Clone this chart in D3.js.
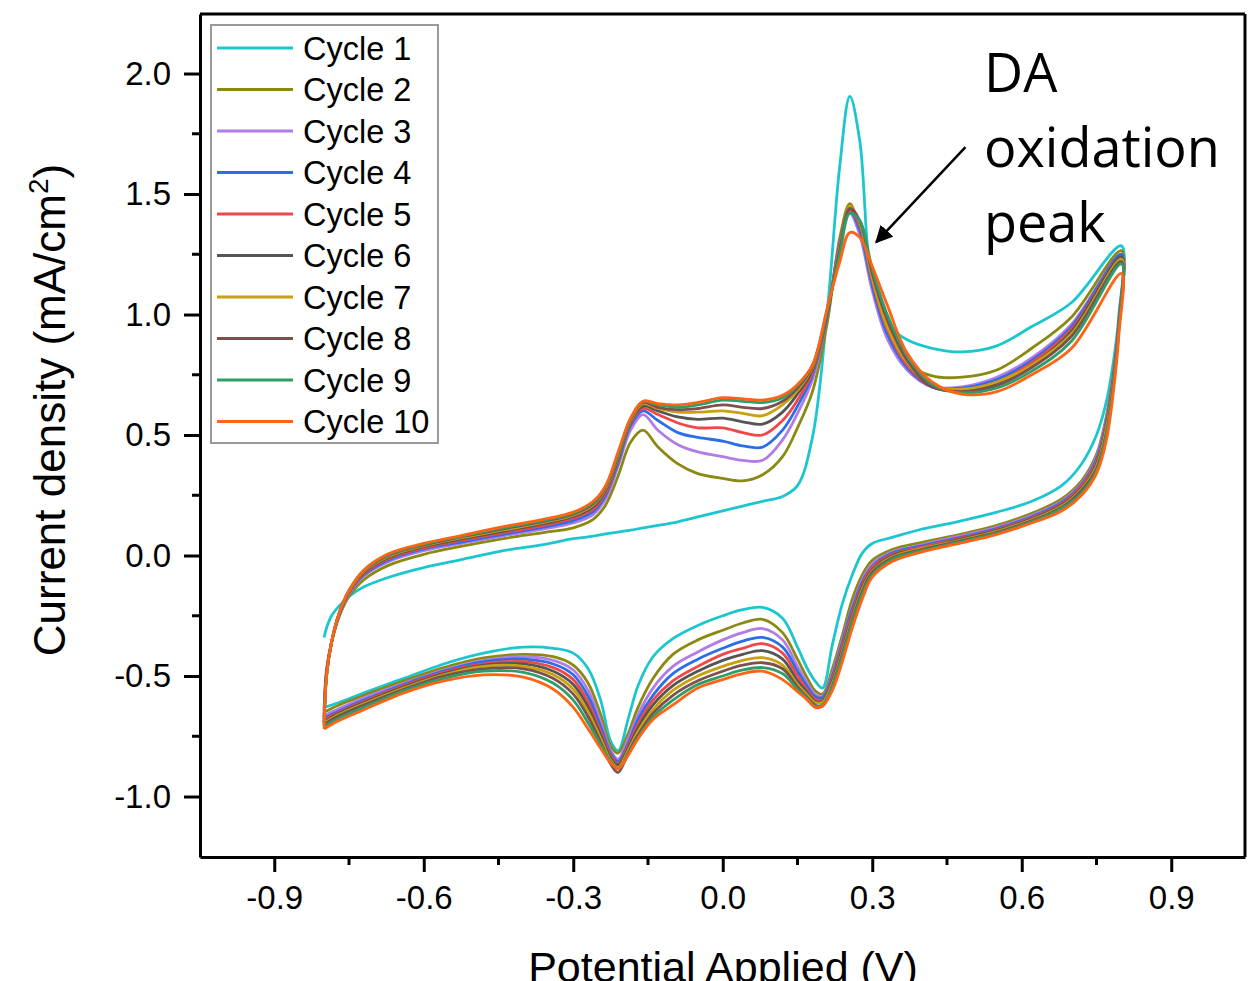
<!DOCTYPE html>
<html>
<head>
<meta charset="utf-8">
<script src="https://cdn.jsdelivr.net/npm/d3@7"></script>
<style>
  body { margin: 0; background: #fff; }
  svg { display: block; }
</style>
</head>
<body>
<svg id="chart" width="1249" height="981"></svg>
<script>
// potential grids (V): forward scan -0.8 -> 0.8, reverse scan 0.8 -> -0.8
var potFwd = [-0.80, -0.795, -0.785, -0.77, -0.75, -0.72, -0.67, -0.60, -0.52, -0.44, -0.36, -0.30, -0.26, -0.235, -0.21, -0.185, -0.16, -0.13, -0.09, -0.05, 0.00, 0.04, 0.08, 0.12, 0.15, 0.18, 0.21, 0.235, 0.255, 0.275, 0.30, 0.33, 0.37, 0.42, 0.48, 0.55, 0.62, 0.70, 0.80];
var potRev = [0.795, 0.785, 0.77, 0.75, 0.72, 0.68, 0.62, 0.55, 0.47, 0.40, 0.34, 0.30, 0.28, 0.26, 0.24, 0.22, 0.20, 0.185, 0.17, 0.15, 0.12, 0.08, 0.04, 0.00, -0.05, -0.10, -0.14, -0.17, -0.19, -0.21, -0.225, -0.245, -0.27, -0.30, -0.34, -0.40, -0.48, -0.56, -0.64, -0.72, -0.77, -0.80];

var cycleNames = ["Cycle 1", "Cycle 2", "Cycle 3", "Cycle 4", "Cycle 5", "Cycle 6", "Cycle 7", "Cycle 8", "Cycle 9", "Cycle 10"];
var cycleColors = ["#1cc6cf", "#8a8a12", "#b27ce6", "#2a6ee8", "#f04848", "#555555", "#c9a00e", "#7d5050", "#2e9e68", "#ff6314"];

// current density (mA/cm2), forward scan
var fwd1 = [-0.34, -0.30, -0.25, -0.21, -0.17, -0.13, -0.09, -0.05, -0.015, 0.02, 0.045, 0.07, 0.08, 0.09, 0.097, 0.105, 0.115, 0.125, 0.14, 0.16, 0.185, 0.205, 0.225, 0.245, 0.29, 0.49, 1.02, 1.62, 1.905, 1.72, 1.12, 0.96, 0.895, 0.86, 0.845, 0.87, 0.95, 1.05, 1.285];
var fwd2 = [-0.64, -0.47, -0.36, -0.255, -0.17, -0.10, -0.04, 0.005, 0.04, 0.07, 0.095, 0.115, 0.15, 0.21, 0.33, 0.47, 0.52, 0.45, 0.38, 0.34, 0.32, 0.31, 0.335, 0.41, 0.53, 0.68, 0.97, 1.32, 1.46, 1.35, 1.14, 0.94, 0.80, 0.745, 0.74, 0.77, 0.86, 0.99, 1.265];
var fwd3 = [-0.66, -0.48, -0.36, -0.25, -0.16, -0.085, -0.025, 0.02, 0.052, 0.082, 0.11, 0.135, 0.17, 0.235, 0.37, 0.52, 0.585, 0.52, 0.46, 0.43, 0.41, 0.395, 0.395, 0.48, 0.59, 0.73, 1.00, 1.30, 1.42, 1.33, 1.10, 0.90, 0.77, 0.70, 0.70, 0.74, 0.82, 0.96, 1.25];
var fwd4 = [-0.67, -0.485, -0.36, -0.248, -0.156, -0.08, -0.018, 0.027, 0.058, 0.088, 0.118, 0.145, 0.182, 0.25, 0.385, 0.54, 0.60, 0.56, 0.51, 0.49, 0.475, 0.455, 0.45, 0.52, 0.62, 0.75, 1.00, 1.30, 1.43, 1.35, 1.12, 0.92, 0.78, 0.70, 0.695, 0.73, 0.81, 0.95, 1.25];
var fwd5 = [-0.68, -0.49, -0.36, -0.246, -0.153, -0.075, -0.012, 0.032, 0.065, 0.095, 0.125, 0.155, 0.192, 0.26, 0.395, 0.55, 0.61, 0.585, 0.55, 0.53, 0.53, 0.51, 0.50, 0.56, 0.645, 0.76, 1.01, 1.29, 1.43, 1.37, 1.14, 0.94, 0.79, 0.70, 0.69, 0.72, 0.80, 0.94, 1.24];
var fwd6 = [-0.69, -0.49, -0.36, -0.244, -0.15, -0.07, -0.007, 0.037, 0.07, 0.101, 0.132, 0.162, 0.202, 0.27, 0.40, 0.555, 0.62, 0.60, 0.575, 0.565, 0.57, 0.555, 0.545, 0.595, 0.67, 0.77, 1.01, 1.28, 1.44, 1.38, 1.16, 0.96, 0.80, 0.70, 0.685, 0.715, 0.79, 0.93, 1.24];
var fwd7 = [-0.695, -0.495, -0.36, -0.242, -0.148, -0.066, -0.003, 0.041, 0.075, 0.106, 0.137, 0.167, 0.21, 0.277, 0.41, 0.56, 0.63, 0.61, 0.595, 0.595, 0.60, 0.59, 0.58, 0.625, 0.685, 0.78, 1.02, 1.28, 1.45, 1.38, 1.15, 0.95, 0.80, 0.705, 0.69, 0.72, 0.79, 0.92, 1.23];
var fwd8 = [-0.70, -0.497, -0.36, -0.241, -0.146, -0.063, 0.001, 0.044, 0.079, 0.111, 0.142, 0.172, 0.215, 0.282, 0.415, 0.565, 0.635, 0.615, 0.605, 0.61, 0.625, 0.615, 0.61, 0.64, 0.695, 0.785, 1.02, 1.27, 1.44, 1.39, 1.17, 0.98, 0.81, 0.70, 0.68, 0.705, 0.78, 0.91, 1.22];
var fwd9 = [-0.71, -0.499, -0.36, -0.24, -0.145, -0.061, 0.004, 0.047, 0.082, 0.115, 0.146, 0.176, 0.22, 0.286, 0.418, 0.568, 0.64, 0.625, 0.615, 0.625, 0.645, 0.64, 0.635, 0.655, 0.705, 0.79, 1.02, 1.25, 1.42, 1.39, 1.19, 1.00, 0.83, 0.71, 0.675, 0.695, 0.765, 0.89, 1.21];
var fwd10 = [-0.72, -0.50, -0.36, -0.24, -0.145, -0.06, 0.008, 0.05, 0.085, 0.12, 0.15, 0.18, 0.225, 0.29, 0.43, 0.57, 0.64, 0.63, 0.625, 0.635, 0.655, 0.65, 0.645, 0.665, 0.71, 0.79, 1.03, 1.22, 1.34, 1.32, 1.20, 1.04, 0.84, 0.72, 0.67, 0.68, 0.75, 0.86, 1.17];

// current density (mA/cm2), reverse scan
var rev1 = [1.00, 0.82, 0.64, 0.50, 0.38, 0.29, 0.225, 0.18, 0.14, 0.11, 0.075, 0.05, 0.01, -0.08, -0.20, -0.37, -0.55, -0.52, -0.47, -0.38, -0.26, -0.215, -0.225, -0.25, -0.29, -0.345, -0.42, -0.54, -0.68, -0.81, -0.77, -0.60, -0.47, -0.405, -0.385, -0.38, -0.405, -0.45, -0.51, -0.57, -0.61, -0.63];
var rev2 = [0.98, 0.78, 0.58, 0.42, 0.31, 0.235, 0.175, 0.125, 0.085, 0.055, 0.025, -0.02, -0.08, -0.18, -0.33, -0.47, -0.575, -0.56, -0.51, -0.43, -0.32, -0.265, -0.28, -0.31, -0.35, -0.41, -0.51, -0.63, -0.74, -0.82, -0.79, -0.66, -0.53, -0.455, -0.42, -0.41, -0.425, -0.465, -0.52, -0.58, -0.62, -0.65];
var rev3 = [0.97, 0.77, 0.57, 0.41, 0.30, 0.226, 0.167, 0.118, 0.078, 0.045, 0.015, -0.035, -0.10, -0.21, -0.35, -0.49, -0.585, -0.575, -0.53, -0.46, -0.35, -0.303, -0.32, -0.35, -0.40, -0.46, -0.55, -0.66, -0.76, -0.845, -0.81, -0.69, -0.56, -0.475, -0.435, -0.42, -0.435, -0.475, -0.53, -0.59, -0.635, -0.665];
var rev4 = [0.97, 0.76, 0.56, 0.40, 0.295, 0.22, 0.161, 0.112, 0.072, 0.04, 0.01, -0.045, -0.11, -0.22, -0.36, -0.50, -0.59, -0.585, -0.545, -0.48, -0.38, -0.34, -0.355, -0.385, -0.43, -0.49, -0.58, -0.68, -0.78, -0.855, -0.82, -0.71, -0.585, -0.495, -0.45, -0.43, -0.44, -0.48, -0.535, -0.60, -0.645, -0.675];
var rev5 = [0.96, 0.75, 0.55, 0.39, 0.29, 0.215, 0.156, 0.108, 0.068, 0.035, 0.005, -0.05, -0.12, -0.235, -0.375, -0.51, -0.60, -0.595, -0.56, -0.50, -0.405, -0.366, -0.385, -0.41, -0.46, -0.52, -0.60, -0.70, -0.79, -0.865, -0.83, -0.73, -0.61, -0.515, -0.465, -0.44, -0.45, -0.485, -0.54, -0.605, -0.65, -0.68];
var rev6 = [0.96, 0.75, 0.54, 0.38, 0.28, 0.21, 0.152, 0.104, 0.064, 0.03, 0.0, -0.06, -0.13, -0.25, -0.39, -0.52, -0.605, -0.605, -0.57, -0.52, -0.43, -0.395, -0.41, -0.435, -0.48, -0.54, -0.62, -0.715, -0.80, -0.87, -0.84, -0.745, -0.63, -0.535, -0.48, -0.45, -0.455, -0.49, -0.545, -0.61, -0.655, -0.69];
var rev7 = [0.95, 0.74, 0.53, 0.37, 0.275, 0.205, 0.148, 0.10, 0.06, 0.03, -0.005, -0.065, -0.14, -0.26, -0.40, -0.53, -0.61, -0.61, -0.58, -0.535, -0.455, -0.424, -0.435, -0.46, -0.50, -0.56, -0.64, -0.73, -0.81, -0.88, -0.85, -0.76, -0.65, -0.555, -0.495, -0.46, -0.46, -0.495, -0.55, -0.615, -0.66, -0.695];
var rev8 = [0.95, 0.73, 0.51, 0.36, 0.27, 0.20, 0.144, 0.096, 0.057, 0.025, -0.01, -0.07, -0.15, -0.27, -0.41, -0.54, -0.625, -0.62, -0.59, -0.545, -0.47, -0.445, -0.455, -0.48, -0.52, -0.58, -0.655, -0.745, -0.82, -0.90, -0.865, -0.775, -0.67, -0.575, -0.51, -0.47, -0.47, -0.50, -0.555, -0.62, -0.665, -0.70];
var rev9 = [0.94, 0.72, 0.50, 0.35, 0.26, 0.195, 0.14, 0.092, 0.053, 0.02, -0.015, -0.08, -0.16, -0.28, -0.42, -0.545, -0.62, -0.625, -0.595, -0.555, -0.49, -0.465, -0.475, -0.50, -0.535, -0.60, -0.67, -0.755, -0.825, -0.885, -0.855, -0.785, -0.695, -0.60, -0.53, -0.485, -0.48, -0.51, -0.56, -0.63, -0.675, -0.71];
var rev10 = [0.92, 0.70, 0.48, 0.34, 0.25, 0.185, 0.135, 0.088, 0.048, 0.015, -0.025, -0.09, -0.18, -0.30, -0.44, -0.56, -0.625, -0.63, -0.60, -0.565, -0.515, -0.48, -0.49, -0.515, -0.55, -0.62, -0.68, -0.76, -0.83, -0.885, -0.86, -0.80, -0.72, -0.63, -0.555, -0.505, -0.495, -0.52, -0.57, -0.64, -0.685, -0.72];

var fwdCurrents = [fwd1, fwd2, fwd3, fwd4, fwd5, fwd6, fwd7, fwd8, fwd9, fwd10];
var revCurrents = [rev1, rev2, rev3, rev4, rev5, rev6, rev7, rev8, rev9, rev10];

var xTicks = [-0.9, -0.6, -0.3, 0.0, 0.3, 0.6, 0.9];
var xMinor = [-0.75, -0.45, -0.15, 0.15, 0.45, 0.75];
var yTicks = [-1.0, -0.5, 0.0, 0.5, 1.0, 1.5, 2.0];
var yMinor = [-0.75, -0.25, 0.25, 0.75, 1.25, 1.75];

var svg = d3.select("#chart");
var plotL = 200, plotR = 1245, plotT = 14, plotB = 857;  // plot frame in px

var x = d3.scaleLinear().domain([-1.049, 1.048]).range([plotL, plotR]);
var y = d3.scaleLinear().domain([-1.251, 2.247]).range([plotB, plotT]);

var fontMain = "'Liberation Sans', Arial, sans-serif";

// curves, cycle 1 at the bottom, cycle 10 on top
var line = d3.line()
  .x(function(d){ return x(d[0]); })
  .y(function(d){ return y(d[1]); })
  .curve(d3.curveCatmullRom.alpha(0.5));

var loops = cycleNames.map(function(name, i){
  var pts = [];
  potFwd.forEach(function(v, j){ pts.push([v, fwdCurrents[i][j]]); });
  potRev.forEach(function(v, j){ pts.push([v, revCurrents[i][j]]); });
  return { name: name, color: cycleColors[i], pts: pts };
});

svg.append("g").selectAll("path").data(loops).enter().append("path")
  .attr("d", function(d){ return line(d.pts); })
  .attr("fill", "none")
  .attr("stroke", function(d){ return d.color; })
  .attr("stroke-width", 2.8)
  .attr("stroke-linejoin", "round");

// frame: top and right borders
svg.append("line").attr("x1", plotL).attr("x2", plotR).attr("y1", plotT).attr("y2", plotT)
  .attr("stroke", "#000").attr("stroke-width", 3);
svg.append("line").attr("x1", plotR).attr("x2", plotR).attr("y1", plotT).attr("y2", plotB)
  .attr("stroke", "#000").attr("stroke-width", 3);

// axes
var fmt = function(d){ return d.toFixed(1); };

var gx = svg.append("g").attr("transform", "translate(0," + plotB + ")")
  .call(d3.axisBottom(x).tickValues(xTicks).tickFormat(fmt).tickSize(15).tickPadding(14).tickSizeOuter(0));
gx.append("g").selectAll("line").data(xMinor).enter().append("line")
  .attr("x1", function(d){ return x(d); }).attr("x2", function(d){ return x(d); })
  .attr("y1", 0).attr("y2", 8).attr("stroke", "#000").attr("stroke-width", 3);

var gy = svg.append("g").attr("transform", "translate(" + plotL + ",0)")
  .call(d3.axisLeft(y).tickValues(yTicks).tickFormat(fmt).tickSize(16).tickPadding(13).tickSizeOuter(0));
gy.append("g").selectAll("line").data(yMinor).enter().append("line")
  .attr("y1", function(d){ return y(d); }).attr("y2", function(d){ return y(d); })
  .attr("x1", 0).attr("x2", -8).attr("stroke", "#000").attr("stroke-width", 3);

[gx, gy].forEach(function(g){
  g.select(".domain").attr("stroke", "#000").attr("stroke-width", 3);
  g.selectAll(".tick line").attr("stroke", "#000").attr("stroke-width", 3);
  g.selectAll(".tick text").attr("font-family", fontMain).attr("font-size", 33).attr("fill", "#000");
});
gx.selectAll(".tick text").attr("dy", "0.71em");

// axis titles (x title is cut by the bottom edge, as in the source)
svg.append("text")
  .attr("x", 723)
  .attr("y", 982)
  .attr("text-anchor", "middle")
  .attr("font-family", fontMain)
  .attr("font-size", 43)
  .text("Potential Applied (V)");

var yt = svg.append("text")
  .attr("transform", "translate(65,410) rotate(-90)")
  .attr("text-anchor", "middle")
  .attr("font-family", fontMain)
  .attr("font-size", 44);
yt.append("tspan").text("Current density (mA/cm");
yt.append("tspan").attr("font-size", 28).attr("dy", -17).text("2");
yt.append("tspan").attr("dy", 17).text(")");

// legend
var legend = svg.append("g");
legend.append("rect")
  .attr("x", 211).attr("y", 25).attr("width", 227).attr("height", 418)
  .attr("fill", "#fff").attr("stroke", "#9a9a9a").attr("stroke-width", 2);
var rows = legend.selectAll("g.row").data(loops).enter().append("g")
  .attr("class", "row")
  .attr("transform", function(d, i){ return "translate(0," + (48 + i * 41.5) + ")"; });
rows.append("line")
  .attr("x1", 217).attr("x2", 293).attr("y1", 0).attr("y2", 0)
  .attr("stroke", function(d){ return d.color; }).attr("stroke-width", 3);
rows.append("text")
  .attr("x", 303).attr("y", 0).attr("dy", "0.36em")
  .attr("font-family", fontMain).attr("font-size", 32.5).attr("fill", "#000")
  .text(function(d){ return d.name; });

// annotation
svg.append("defs").append("marker")
  .attr("id", "arrow").attr("viewBox", "0 0 10 10")
  .attr("refX", 9).attr("refY", 5)
  .attr("markerWidth", 7).attr("markerHeight", 7)
  .attr("orient", "auto")
  .append("path").attr("d", "M0,0 L10,5 L0,10 Z").attr("fill", "#000");

svg.append("line")
  .attr("x1", x(0.487)).attr("y1", y(1.695))
  .attr("x2", x(0.308)).attr("y2", y(1.30))
  .attr("stroke", "#000").attr("stroke-width", 2.5)
  .attr("marker-end", "url(#arrow)");

var ann = svg.append("g").attr("font-family", "'Open Sans', sans-serif").attr("font-size", 54).attr("fill", "#000");
["DA", "oxidation", "peak"].forEach(function(t, i){
  ann.append("text").attr("x", 984).attr("y", 92 + i * 75).text(t);
});
</script>
</body>
</html>
